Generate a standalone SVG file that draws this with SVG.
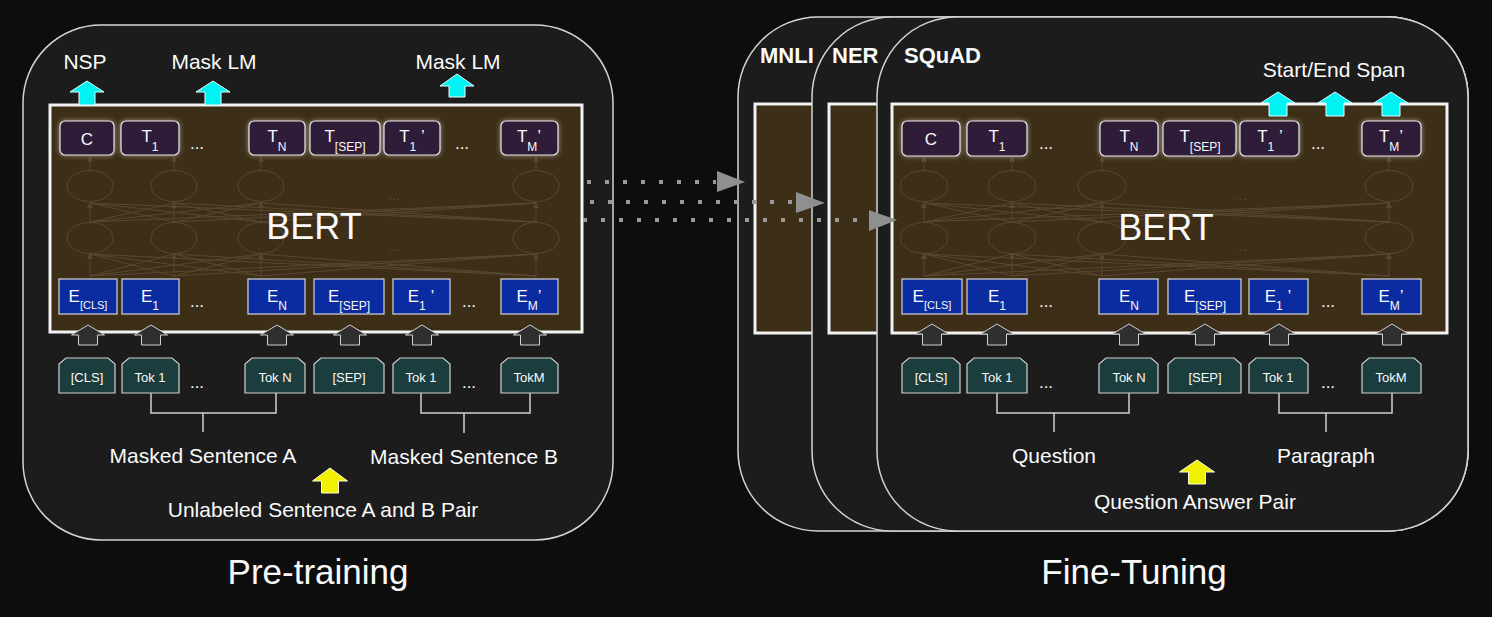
<svg xmlns="http://www.w3.org/2000/svg" width="1492" height="617" viewBox="0 0 1492 617">
<defs>
<style>
text{font-family:"Liberation Sans",Arial,Helvetica,sans-serif;fill:#fafafa}
.panel{fill:#1c1c1c;stroke:#d4d4d4;stroke-width:1.5}
.bert{fill:#3d2e17;stroke:#f2f2f2;stroke-width:3}
.tbox{fill:#2e1f37;stroke:#e6e6e6;stroke-width:1.2;filter:url(#glow)}
.ebox{fill:#0b2ca0;stroke:#d6d6d6;stroke-width:1.2}
.tok{fill:#1b3d3d;stroke:#d0d0d0;stroke-width:1.2}
.net{fill:none;stroke:#6e5d42;stroke-width:1}
.netdots{fill:#6e5d42;font-size:14px}
.lbl{font-size:21px;text-anchor:middle}
.title{font-size:35px;text-anchor:middle}
.task{font-size:22px;font-weight:bold}
.bt{font-size:36px;text-anchor:middle}
.bx{font-size:17px;text-anchor:middle}
.tk{font-size:13px;text-anchor:middle}
.dots{font-size:17px;text-anchor:middle}
.cyan{fill:#00f2f2;stroke:#e8ffff;stroke-width:1}
.gray{fill:#2f2f2f;stroke:#d0d0d0;stroke-width:1}
.yel{fill:#f2f200;stroke:#ffffe0;stroke-width:1}
.brk{fill:none;stroke:#cfcfcf;stroke-width:1.5}
.dotline{stroke:#9a9a9a;stroke-width:4;stroke-dasharray:4 14;fill:none}
.dothead{fill:#8f8f8f}
</style>
<filter id="glow" x="-30%" y="-40%" width="160%" height="180%">
<feGaussianBlur in="SourceAlpha" stdDeviation="2.5" result="b"/>
<feFlood flood-color="#ffffff" flood-opacity="0.5"/>
<feComposite in2="b" operator="in"/>
<feMerge><feMergeNode/><feMergeNode in="SourceGraphic"/></feMerge>
</filter>
<marker id="na" markerWidth="6" markerHeight="6" refX="5" refY="3" orient="auto" markerUnits="userSpaceOnUse">
<path d="M0 0L6 3L0 6Z" fill="#6e5d42"/>
</marker>
</defs>
<rect width="1492" height="617" fill="#0d0d0d"/>

<!-- ============ PRE-TRAINING ============ -->
<g id="pretraining-panel">
<rect class="panel" x="23" y="25" width="590" height="515" rx="78"/>
</g>
<g id="pt-bert">
<rect class="bert" x="50" y="105" width="532" height="227"/>
<g opacity="0.55">
<ellipse class="net" cx="90" cy="186" rx="23" ry="15.5"/><ellipse class="net" cx="174" cy="186" rx="23" ry="15.5"/><ellipse class="net" cx="261" cy="186" rx="23" ry="15.5"/><ellipse class="net" cx="536" cy="186" rx="23" ry="15.5"/>
<ellipse class="net" cx="90" cy="238" rx="23" ry="15.5"/><ellipse class="net" cx="174" cy="238" rx="23" ry="15.5"/><ellipse class="net" cx="261" cy="238" rx="23" ry="15.5"/><ellipse class="net" cx="536" cy="238" rx="23" ry="15.5"/>
<path class="net" d="M90 276L174 254M90 276L261 254M90 276L536 254M174 276L90 254M174 276L261 254M174 276L536 254M261 276L90 254M261 276L174 254M261 276L536 254M536 276L90 254M536 276L174 254M536 276L261 254"/>
<path class="net" d="M90 222L174 203M90 222L261 203M90 222L536 203M174 222L90 203M174 222L261 203M174 222L536 203M261 222L90 203M261 222L174 203M261 222L536 203M536 222L90 203M536 222L174 203M536 222L261 203"/>
<path class="net" marker-end="url(#na)" d="M90 276V254"/><path class="net" marker-end="url(#na)" d="M174 276V254"/><path class="net" marker-end="url(#na)" d="M261 276V254"/><path class="net" marker-end="url(#na)" d="M536 276V254"/>
<path class="net" marker-end="url(#na)" d="M90 222V203"/><path class="net" marker-end="url(#na)" d="M174 222V203"/><path class="net" marker-end="url(#na)" d="M261 222V203"/><path class="net" marker-end="url(#na)" d="M536 222V203"/>
<path class="net" marker-end="url(#na)" d="M90 170V157"/><path class="net" marker-end="url(#na)" d="M174 170V157"/><path class="net" marker-end="url(#na)" d="M261 170V157"/><path class="net" marker-end="url(#na)" d="M536 170V157"/>
<text class="netdots" x="394" y="200" text-anchor="middle">...</text>
<text class="netdots" x="394" y="251" text-anchor="middle">...</text>
</g>
<text class="bt" x="314" y="239">BERT</text>
</g>

<g id="pt-T">
<g id="pt-C"><rect class="tbox" x="60" y="121" width="54" height="34" rx="5"/><text class="bx" x="87" y="145">C</text></g>
<g id="pt-T1"><rect class="tbox" x="121" y="121" width="58" height="34" rx="5"/><text class="bx" x="150" y="142">T<tspan dy="9" font-size="12">1</tspan></text></g>
<text class="dots" x="197" y="149">...</text>
<g id="pt-TN"><rect class="tbox" x="249" y="121" width="56" height="34" rx="5"/><text class="bx" x="277" y="142">T<tspan dy="9" font-size="12">N</tspan></text></g>
<g id="pt-TSEP"><rect class="tbox" x="310" y="121" width="70" height="34" rx="5"/><text class="bx" x="345" y="142">T<tspan dy="9" font-size="12">[SEP]</tspan></text></g>
<g id="pt-T1p"><rect class="tbox" x="384" y="121" width="56" height="34" rx="5"/><text class="bx" x="412" y="142">T<tspan dy="9" font-size="12">1</tspan><tspan dy="-9"> ’</tspan></text></g>
<text class="dots" x="462" y="149">...</text>
<g id="pt-TMp"><rect class="tbox" x="501" y="121" width="57" height="34" rx="5"/><text class="bx" x="529" y="142">T<tspan dy="9" font-size="12">M</tspan><tspan dy="-9">’</tspan></text></g>
</g>

<g id="pt-E">
<g id="pt-ECLS"><rect class="ebox" x="59" y="279" width="58" height="35"/><text class="bx" x="88" y="302">E<tspan dy="7" font-size="11">[CLS]</tspan></text></g>
<g id="pt-E1"><rect class="ebox" x="122" y="279" width="57" height="35"/><text class="bx" x="150" y="302">E<tspan dy="8" font-size="12">1</tspan></text></g>
<text class="dots" x="197" y="307">...</text>
<g id="pt-EN"><rect class="ebox" x="248" y="279" width="57" height="35"/><text class="bx" x="277" y="302">E<tspan dy="8" font-size="12">N</tspan></text></g>
<g id="pt-ESEP"><rect class="ebox" x="314" y="279" width="70" height="35"/><text class="bx" x="349" y="302">E<tspan dy="8" font-size="12">[SEP]</tspan></text></g>
<g id="pt-E1p"><rect class="ebox" x="393" y="279" width="57" height="35"/><text class="bx" x="421" y="302">E<tspan dy="8" font-size="12">1</tspan><tspan dy="-8"> ’</tspan></text></g>
<text class="dots" x="469" y="307">...</text>
<g id="pt-EMp"><rect class="ebox" x="501" y="279" width="57" height="35"/><text class="bx" x="529" y="302">E<tspan dy="8" font-size="12">M</tspan><tspan dy="-8">’</tspan></text></g>
</g>

<g id="pt-tokens">
<g id="pt-tok-cls"><path class="tok" d="M59 393V364L66 358H108L115 364V393Z"/><text class="tk" x="87" y="382" font-size="12">[CLS]</text></g>
<g id="pt-tok-1"><path class="tok" d="M122 393V364L129 358H172L179 364V393Z"/><text class="tk" x="150" y="382">Tok 1</text></g>
<text class="dots" x="197" y="388">...</text>
<g id="pt-tok-n"><path class="tok" d="M245 393V364L252 358H298L305 364V393Z"/><text class="tk" x="275" y="382">Tok N</text></g>
<g id="pt-tok-sep"><path class="tok" d="M314 393V364L321 358H377L384 364V393Z"/><text class="tk" x="349" y="382">[SEP]</text></g>
<g id="pt-tok-1b"><path class="tok" d="M393 393V364L400 358H443L450 364V393Z"/><text class="tk" x="421" y="382">Tok 1</text></g>
<text class="dots" x="469" y="388">...</text>
<g id="pt-tok-m"><path class="tok" d="M501 393V364L508 358H551L558 364V393Z"/><text class="tk" x="529" y="382">TokM</text></g>
</g>

<g id="pt-labels">
<text class="lbl" x="85" y="69">NSP</text>
<text class="lbl" x="214" y="69">Mask LM</text>
<text class="lbl" x="458" y="69">Mask LM</text>
<text class="lbl" x="203" y="463">Masked Sentence A</text>
<text class="lbl" x="464" y="464">Masked Sentence B</text>
<text class="lbl" x="323" y="517">Unlabeled Sentence A and B Pair</text>
<text class="title" x="318" y="584">Pre-training</text>
</g>

<!-- ============ FINE-TUNING ============ -->
<g id="mnli-panel">
<rect class="panel" x="738" y="17" width="730" height="514" rx="80"/>
<rect class="bert" x="755" y="104" width="600" height="229"/>
<text class="task" x="760" y="63">MNLI</text>
</g>
<g id="ner-panel">
<rect class="panel" x="812" y="17" width="656" height="514" rx="80"/>
<rect class="bert" x="829" y="104" width="560" height="229"/>
<text class="task" x="832" y="63">NER</text>
</g>
<g id="squad-panel">
<rect class="panel" x="877" y="17" width="591" height="514" rx="80"/>
<text class="task" x="904" y="63">SQuAD</text>
</g>

<g id="ft-bert">
<rect class="bert" x="892" y="104" width="555" height="229"/>
<g opacity="0.55">
<ellipse class="net" cx="924" cy="186" rx="24" ry="15.5"/><ellipse class="net" cx="1012" cy="186" rx="24" ry="15.5"/><ellipse class="net" cx="1102" cy="186" rx="24" ry="15.5"/><ellipse class="net" cx="1389" cy="186" rx="24" ry="15.5"/>
<ellipse class="net" cx="924" cy="238" rx="24" ry="15.5"/><ellipse class="net" cx="1012" cy="238" rx="24" ry="15.5"/><ellipse class="net" cx="1102" cy="238" rx="24" ry="15.5"/><ellipse class="net" cx="1389" cy="238" rx="24" ry="15.5"/>
<path class="net" d="M924 276L1012 254M924 276L1102 254M924 276L1389 254M1012 276L924 254M1012 276L1102 254M1012 276L1389 254M1102 276L924 254M1102 276L1012 254M1102 276L1389 254M1389 276L924 254M1389 276L1012 254M1389 276L1102 254"/>
<path class="net" d="M924 222L1012 203M924 222L1102 203M924 222L1389 203M1012 222L924 203M1012 222L1102 203M1012 222L1389 203M1102 222L924 203M1102 222L1012 203M1102 222L1389 203M1389 222L924 203M1389 222L1012 203M1389 222L1102 203"/>
<path class="net" marker-end="url(#na)" d="M924 276V254"/><path class="net" marker-end="url(#na)" d="M1012 276V254"/><path class="net" marker-end="url(#na)" d="M1102 276V254"/><path class="net" marker-end="url(#na)" d="M1389 276V254"/>
<path class="net" marker-end="url(#na)" d="M924 222V203"/><path class="net" marker-end="url(#na)" d="M1012 222V203"/><path class="net" marker-end="url(#na)" d="M1102 222V203"/><path class="net" marker-end="url(#na)" d="M1389 222V203"/>
<path class="net" marker-end="url(#na)" d="M924 170V157"/><path class="net" marker-end="url(#na)" d="M1012 170V157"/><path class="net" marker-end="url(#na)" d="M1102 170V157"/><path class="net" marker-end="url(#na)" d="M1389 170V157"/>
<text class="netdots" x="1241" y="200" text-anchor="middle">...</text>
<text class="netdots" x="1241" y="251" text-anchor="middle">...</text>
</g>
<text class="bt" x="1166" y="240">BERT</text>
</g>

<g id="ft-T">
<g id="ft-C"><rect class="tbox" x="902" y="121" width="58" height="35" rx="5"/><text class="bx" x="931" y="145">C</text></g>
<g id="ft-T1"><rect class="tbox" x="967" y="121" width="60" height="35" rx="5"/><text class="bx" x="997" y="142">T<tspan dy="9" font-size="12">1</tspan></text></g>
<text class="dots" x="1046" y="149">...</text>
<g id="ft-TN"><rect class="tbox" x="1100" y="121" width="58" height="35" rx="5"/><text class="bx" x="1129" y="142">T<tspan dy="9" font-size="12">N</tspan></text></g>
<g id="ft-TSEP"><rect class="tbox" x="1163" y="121" width="73" height="35" rx="5"/><text class="bx" x="1200" y="142">T<tspan dy="9" font-size="12">[SEP]</tspan></text></g>
<g id="ft-T1p"><rect class="tbox" x="1240" y="121" width="59" height="35" rx="5"/><text class="bx" x="1270" y="142">T<tspan dy="9" font-size="12">1</tspan><tspan dy="-9"> ’</tspan></text></g>
<text class="dots" x="1318" y="149">...</text>
<g id="ft-TMp"><rect class="tbox" x="1362" y="121" width="59" height="35" rx="5"/><text class="bx" x="1391" y="142">T<tspan dy="9" font-size="12">M</tspan><tspan dy="-9">’</tspan></text></g>
</g>

<g id="ft-E">
<g id="ft-ECLS"><rect class="ebox" x="902" y="279" width="60" height="35"/><text class="bx" x="932" y="302">E<tspan dy="7" font-size="11">[CLS]</tspan></text></g>
<g id="ft-E1"><rect class="ebox" x="967" y="279" width="60" height="35"/><text class="bx" x="997" y="302">E<tspan dy="8" font-size="12">1</tspan></text></g>
<text class="dots" x="1046" y="307">...</text>
<g id="ft-EN"><rect class="ebox" x="1099" y="279" width="59" height="35"/><text class="bx" x="1129" y="302">E<tspan dy="8" font-size="12">N</tspan></text></g>
<g id="ft-ESEP"><rect class="ebox" x="1168" y="279" width="73" height="35"/><text class="bx" x="1205" y="302">E<tspan dy="8" font-size="12">[SEP]</tspan></text></g>
<g id="ft-E1p"><rect class="ebox" x="1249" y="279" width="59" height="35"/><text class="bx" x="1278" y="302">E<tspan dy="8" font-size="12">1</tspan><tspan dy="-8"> ’</tspan></text></g>
<text class="dots" x="1328" y="307">...</text>
<g id="ft-EMp"><rect class="ebox" x="1362" y="279" width="59" height="35"/><text class="bx" x="1391" y="302">E<tspan dy="8" font-size="12">M</tspan><tspan dy="-8">’</tspan></text></g>
</g>

<g id="ft-tokens">
<g id="ft-tok-cls"><path class="tok" d="M902 393V364L909 358H953L960 364V393Z"/><text class="tk" x="931" y="382" font-size="12">[CLS]</text></g>
<g id="ft-tok-1"><path class="tok" d="M967 393V364L974 358H1020L1027 364V393Z"/><text class="tk" x="997" y="382">Tok 1</text></g>
<text class="dots" x="1046" y="388">...</text>
<g id="ft-tok-n"><path class="tok" d="M1099 393V364L1106 358H1151L1158 364V393Z"/><text class="tk" x="1129" y="382">Tok N</text></g>
<g id="ft-tok-sep"><path class="tok" d="M1168 393V364L1175 358H1234L1241 364V393Z"/><text class="tk" x="1205" y="382">[SEP]</text></g>
<g id="ft-tok-1b"><path class="tok" d="M1249 393V364L1256 358H1301L1308 364V393Z"/><text class="tk" x="1278" y="382">Tok 1</text></g>
<text class="dots" x="1328" y="388">...</text>
<g id="ft-tok-m"><path class="tok" d="M1362 393V364L1369 358H1414L1421 364V393Z"/><text class="tk" x="1391" y="382">TokM</text></g>
</g>

<g id="ft-labels">
<text class="lbl" x="1334" y="77">Start/End Span</text>
<text class="lbl" x="1054" y="463">Question</text>
<text class="lbl" x="1326" y="463">Paragraph</text>
<text class="lbl" x="1195" y="509">Question Answer Pair</text>
<text class="title" x="1134" y="584">Fine-Tuning</text>
</g>

<!-- ============ CONNECTORS ============ -->
<g id="connectors">
<path class="cyan" d="M87 81L104 92H95V105H79V92H70Z"/>
<path class="cyan" d="M213 81L230 92H221V105H205V92H196Z"/>
<path class="cyan" d="M457 74L474 86H465V97H449V86H440Z"/>
<path class="gray" d="M88 325L104.5 335H97.5V345H78.5V335H71.5Z"/>
<path class="gray" d="M151 325L167.5 335H160.5V345H141.5V335H134.5Z"/>
<path class="gray" d="M277 325L293.5 335H286.5V345H267.5V335H260.5Z"/>
<path class="gray" d="M350 325L366.5 335H359.5V345H340.5V335H333.5Z"/>
<path class="gray" d="M422 325L438.5 335H431.5V345H412.5V335H405.5Z"/>
<path class="gray" d="M530 325L546.5 335H539.5V345H520.5V335H513.5Z"/>
<path class="brk" d="M151 393V413H276V393M203 413V432"/>
<path class="brk" d="M421 393V413H530V393M464 413V433"/>
<path class="yel" d="M330 468L347.5 481H338.5V493H321.5V481H312.5Z"/>
<path class="cyan" d="M1278 92L1295 103H1287V116H1269V103H1261Z"/>
<path class="cyan" d="M1335 92L1352 103H1344V116H1326V103H1318Z"/>
<path class="cyan" d="M1391 92L1408 103H1400V116H1382V103H1374Z"/>
<path class="gray" d="M932 324L948.5 334H941.5V345H922.5V334H915.5Z"/>
<path class="gray" d="M997 324L1013.5 334H1006.5V345H987.5V334H980.5Z"/>
<path class="gray" d="M1129 324L1145.5 334H1138.5V345H1119.5V334H1112.5Z"/>
<path class="gray" d="M1205 324L1221.5 334H1214.5V345H1195.5V334H1188.5Z"/>
<path class="gray" d="M1279 324L1295.5 334H1288.5V345H1269.5V334H1262.5Z"/>
<path class="gray" d="M1392 324L1408.5 334H1401.5V345H1382.5V334H1375.5Z"/>
<path class="brk" d="M997 393V413H1129V393M1054 413V432"/>
<path class="brk" d="M1279 393V413H1392V393M1326 413V432"/>
<path class="yel" d="M1197 460L1214.5 472H1205.5V484H1188.5V472H1179.5Z"/>
<path class="dotline" d="M587 182H716"/>
<polygon class="dothead" points="717,171 745,182 717,192"/>
<path class="dotline" d="M590 202H795"/>
<polygon class="dothead" points="796,192 825,203 796,213"/>
<path class="dotline" d="M583 220H867"/>
<polygon class="dothead" points="869,210 897,220 869,231"/>
</g>
</svg>
